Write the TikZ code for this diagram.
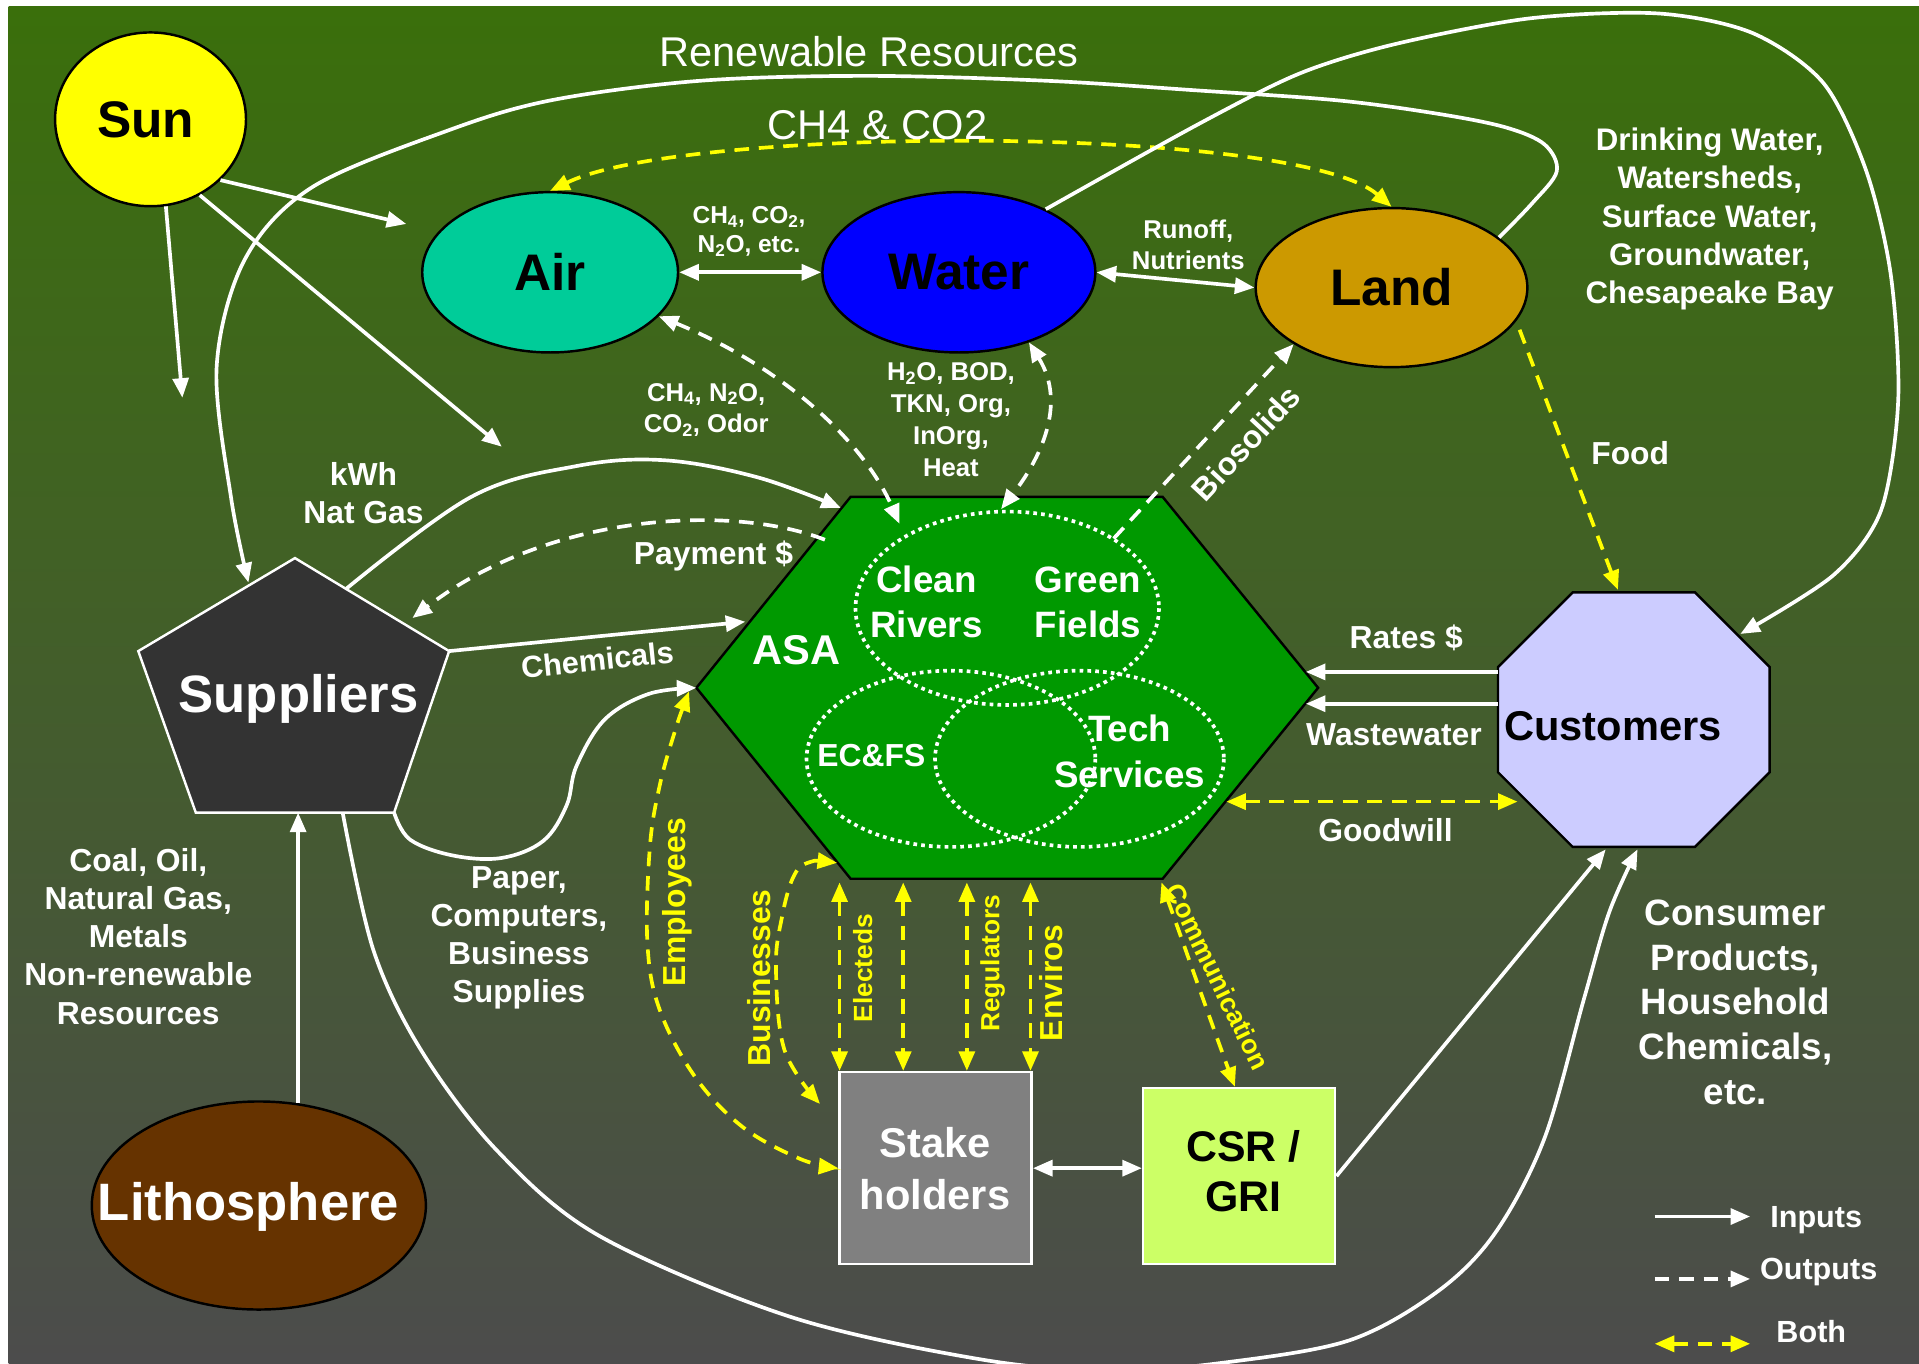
\documentclass[tikz,border=0pt]{standalone}
\usepackage{fontspec}
\setmainfont{Liberation Sans}
\usetikzlibrary{arrows.meta,shapes.geometric}
\definecolor{bgtop}{RGB}{58,111,11}
\definecolor{bgbot}{RGB}{76,76,76}
\definecolor{sunc}{RGB}{255,255,0}
\definecolor{airc}{RGB}{0,204,153}
\definecolor{waterc}{RGB}{0,0,255}
\definecolor{landc}{RGB}{204,153,0}
\definecolor{lithc}{RGB}{102,51,0}
\definecolor{supc}{RGB}{51,51,51}
\definecolor{hexc}{RGB}{0,153,0}
\definecolor{custc}{RGB}{204,204,255}
\definecolor{stakec}{RGB}{128,128,128}
\definecolor{csrc}{RGB}{204,255,102}
\definecolor{ylw}{RGB}{255,255,0}
\newcommand\fz[2]{\fontsize{#1}{#2}\selectfont}
\begin{document}
\begin{tikzpicture}[x=1pt,y=-1pt,
  >={Triangle[length=16pt,width=13pt]},
  wline/.style={draw=white,line width=3pt},
  inarr/.style={wline,->},
  inboth/.style={wline,<->},
  outarr/.style={wline,->,dash pattern=on 12pt off 8pt},
  outboth/.style={wline,<->,dash pattern=on 12pt off 8pt},
  ybo/.style={draw=ylw,line width=3pt,<->,dash pattern=on 12pt off 8pt},
  lbl/.style={text=white,align=center,inner sep=0pt},
  ylbl/.style={text=ylw,inner sep=0pt},
  blob/.style={ellipse,draw=black,line width=2pt,inner sep=0pt},
  dots/.style={draw=white,line width=3pt,dash pattern=on 3pt off 3.4pt}]
\useasboundingbox (0,0) rectangle (1568,1114);
\fill[white] (0,0) rectangle (1568,1114);
\shade[top color=bgtop,bottom color=bgbot] (7,5) rectangle (1568,1114);

% ---------- nodes ----------
\node[blob,fill=sunc,minimum width=156,minimum height=142] (sun) at (123,97.5) {};
\node[inner sep=0pt,font=\bfseries\fz{42}{48}] (sunt) at (119,98) {Sun};
\node[blob,fill=airc,minimum width=209,minimum height=131,font=\bfseries\fz{42}{48}] (air) at (449.5,222.5) {Air};
\node[blob,fill=waterc,minimum width=223,minimum height=131,font=\bfseries\fz{42}{48}] (water) at (783.5,222.5) {Water};
\node[blob,fill=landc,minimum width=222,minimum height=130,font=\bfseries\fz{42}{48}] (land) at (1137,235) {Land};
\node[blob,fill=lithc,minimum width=273,minimum height=170] (litho) at (211.5,985) {};
\node[lbl,font=\bfseries\fz{43}{48}] (lithot) at (203,986) {Lithosphere};

% Suppliers pentagon
\coordinate (sT) at (241,456);
\coordinate (sR) at (367,532);
\coordinate (sBR) at (322,664);
\coordinate (sBL) at (160,664);
\coordinate (sL) at (113,532);
\draw[fill=supc,draw=white,line width=2pt] (sT)--(sR)--(sBR)--(sBL)--(sL)--cycle;
\node[lbl,font=\bfseries\fz{43}{48}] (sup) at (244,571) {Suppliers};

% ASA hexagon
\coordinate (h1) at (695,406);
\coordinate (h2) at (950,406);
\coordinate (h3) at (1077,562);
\coordinate (h4) at (950,718);
\coordinate (h5) at (695,718);
\coordinate (h6) at (569,562);
\draw[fill=hexc,draw=black,line width=2pt] (h1)--(h2)--(h3)--(h4)--(h5)--(h6)--cycle;
\draw[dots] (823,497) ellipse [x radius=124,y radius=79];
\draw[dots] (777,620) ellipse [x radius=118,y radius=72];
\draw[dots] (882,620) ellipse [x radius=118,y radius=72];
\node[lbl,font=\bfseries\fz{34}{40}] (asa) at (651,531) {ASA};
\node[lbl,font=\bfseries\fz{30}{37}] (clean) at (757,492) {Clean\\Rivers};
\node[lbl,font=\bfseries\fz{30}{37}] (green) at (889,492) {Green\\Fields};
\node[lbl,font=\bfseries\fz{26}{31}] (ecfs) at (712,617) {EC\&FS};
\node[lbl,font=\bfseries\fz{30}{37}] (tech) at (923,614) {Tech\\Services};

% Customers octagon
\coordinate (c1) at (1285,484);
\coordinate (c2) at (1385,484);
\coordinate (c3) at (1446,545);
\coordinate (c4) at (1446,631);
\coordinate (c5) at (1385,692);
\coordinate (c6) at (1285,692);
\coordinate (c7) at (1224,631);
\coordinate (c8) at (1224,545);
\draw[fill=custc,draw=black,line width=2pt] (c1)--(c2)--(c3)--(c4)--(c5)--(c6)--(c7)--(c8)--cycle;
\node[inner sep=0pt,font=\bfseries\fz{34}{40}] (cust) at (1318,593) {Customers};

% Stakeholders and CSR
\node[draw=white,line width=2pt,fill=stakec,minimum width=157,minimum height=157,inner sep=0pt] (stake) at (764.5,954.5) {};
\node[lbl,font=\bfseries\fz{34}{43}] (staket) at (764,955) {Stake\\holders};
\node[draw=white,line width=2pt,fill=csrc,minimum width=157,minimum height=144,inner sep=0pt] (csr) at (1012.5,961) {};
\node[inner sep=0pt,align=center,font=\bfseries\fz{35}{41}] (csrt) at (1016,957) {CSR /\\GRI};

% ---------- connectors ----------
% Sun
\coordinate (sunA) at (149,325);
\coordinate (sunB) at (332,183);
\coordinate (sunC) at (410,365);
\draw[inarr] (sun.-80) -- (sunA);
\draw[inarr] (sun.-41) -- (sunB);
\draw[inarr] (sun.-57) -- (sunC);

% Air/Water/Land
\draw[inboth] (air.east) -- (water.west);
\draw[inboth] (water.east) -- (land.west);
\draw[ybo] (air.north) .. controls (560,102) and (1060,102) .. (land.north);

% Renewable resources loop: Land -> Suppliers
\draw[inarr] plot[smooth,tension=0.55] coordinates {(land.25) (1252,166) (1272,140) (1262,118) (1230,104) (1175,93) (1093,82) (980,74) (855,66) (709,62) (572,66) (450,82) (365,107) (255,153) (200,212) (177,300) (189,408) (203,476)};

% Water -> Customers loop
\coordinate (custTR) at (1422,518);
\draw[inarr] plot[smooth,tension=0.5] coordinates {(water.36) (980,101) (1062,60) (1140,36) (1250,15) (1355,11) (1432,27) (1490,68) (1525,140) (1545,225) (1551,327) (1537,417) (1498,470) (custTR)};

% Air <-> ASA, Water <-> ASA, Biosolids
\coordinate (hAir) at (735,428);
\coordinate (hWat) at (818,416);
\coordinate (hBio) at (910,440);
\draw[outboth] (air.-22) .. controls (640,300) and (705,360) .. (hAir);
\draw[outboth] (water.-45) .. controls (872,330) and (850,375) .. (hWat);
\draw[outarr] (hBio) -- (land.-150);

% Suppliers <-> ASA
\coordinate (hKwh) at (687,415);
\coordinate (hPay) at (674,441);
\coordinate (supPay) at (337,505);
\coordinate (supKwh) at (283,481);
\coordinate (hChem) at (609,508);
\coordinate (supBot) at (280,664);
\draw[inarr] plot[smooth,tension=0.6] coordinates {(supKwh) (385,406) (470,381) (542,376) (619,390) (hKwh)};
\draw[outarr] (hPay) .. controls (600,412) and (450,418) .. (supPay);
\draw[inarr] (sR) -- (hChem);
\draw[inarr] plot[smooth,tension=0.6] coordinates {(sBR) (335,686) (370,699) (410,701) (444,687) (463,658) (471,626) (494,588) (530,567) (h6)};

% Lithosphere -> Suppliers
\draw[inarr] (litho.69) -- (litho.69 |- sBR);

% Suppliers -> Customers (bottom loop)
\coordinate (custB2) at (1338,694);
\draw[inarr] plot[smooth,tension=0.55] coordinates {(supBot) (305,776) (344,858) (406,940) (490,1010) (646,1076) (803,1111) (910,1120) (1003,1113) (1103,1095) (1175,1055) (1222,1007) (1262,930) (1294,817) (1315,745) (custB2)};

% CSR -> Customers
\coordinate (custB1) at (1312,694);
\draw[inarr] (csr.east) -- (custB1);
\draw[inboth] (stake.east) -- (stake.east -| csr.west);

% Customers -> ASA
\coordinate (hRate) at (1067,549);
\coordinate (hWw) at (1067,575);
\coordinate (hGood) at (1002,655);
\coordinate (custGood) at (1240,655);
\draw[inarr] (c8 |- hRate) -- (hRate);
\draw[inarr] (c8 |- hWw) -- (hWw);
\draw[ybo] (hGood) -- (custGood);

% Land -> Customers (food)
\coordinate (custTop) at (1322,482);
\draw[ybo,<-] (custTop) -- (land.-15);

% Stakeholder links
\coordinate (hEmp) at (563,565);
\coordinate (hBus) at (684,705);
\coordinate (stBus) at (670,902);
\draw[ybo] plot[smooth,tension=0.6] coordinates {(hEmp) (551,599) (539,642) (531,692) (529,771) (539,825) (568,880) (607,921) (654,947) (stake.west)};
\draw[ybo] plot[smooth,tension=0.6] coordinates {(hBus) (660,705) (648,717) (639,749) (634,790) (641,858) (stBus)};
\foreach \xx/\nm in {686/e1,738/e2,790/e3,842/e4}{
  \coordinate (t\nm) at (\xx,721);
  \draw[ybo] (t\nm) -- (t\nm |- stake.north);
}
\coordinate (hCom) at (949,721);
\coordinate (csrTop) at (1009,888);
\draw[ybo] plot[smooth,tension=0.6] coordinates {(hCom) (963,760) (979,805) (998,858) (csrTop)};

% ---------- labels ----------
\node[lbl,font=\fz{34}{40}] (lren) at (710,42) {Renewable Resources};
\node[lbl,font=\fz{34}{40}] (lch) at (717,102) {CH4 \& CO2};
\node[lbl,font=\bfseries\fz{20}{24}] (lgas) at (612,189) {CH\textsubscript{4}, CO\textsubscript{2},\\N\textsubscript{2}O, etc.};
\node[lbl,font=\bfseries\fz{21}{26}] (lrun) at (971,200) {Runoff,\\Nutrients};
\node[lbl,font=\bfseries\fz{21}{26}] (lodor) at (577,335) {CH\textsubscript{4}, N\textsubscript{2}O,\\CO\textsubscript{2}, Odor};
\node[lbl,font=\bfseries\fz{21}{26.3}] (lh2o) at (777,343) {H\textsubscript{2}O, BOD,\\TKN, Org,\\InOrg,\\Heat};
\node[lbl,font=\bfseries\fz{25.5}{31.2}] (ldrink) at (1397,179) {Drinking Water,\\Watersheds,\\Surface Water,\\Groundwater,\\Chesapeake Bay};
\node[lbl,font=\bfseries\fz{26}{31}] (lfood) at (1332,370) {Food};
\node[lbl,font=\bfseries\fz{26}{31},rotate=47] (lbio) at (1018,362) {Biosolids};
\node[lbl,font=\bfseries\fz{26}{31}] (lkwh) at (297,403) {kWh\\Nat Gas};
\node[lbl,font=\bfseries\fz{26}{31}] (lpay) at (583,454) {Payment \$};
\node[lbl,font=\bfseries\fz{25}{31},rotate=6] (lchem) at (488,539) {Chemicals};
\node[lbl,font=\bfseries\fz{26}{31.2}] (lcoal) at (113,765) {Coal, Oil,\\Natural Gas,\\Metals\\Non-renewable\\Resources};
\node[lbl,font=\bfseries\fz{26}{31}] (lpaper) at (424,766) {Paper,\\Computers,\\Business\\Supplies};
\node[lbl,font=\bfseries\fz{26}{31}] (lrate) at (1149,521) {Rates \$};
\node[lbl,font=\bfseries\fz{26}{31}] (lww) at (1139,600) {Wastewater};
\node[lbl,font=\bfseries\fz{26}{31}] (lgood) at (1132,678) {Goodwill};
\node[lbl,font=\bfseries\fz{30}{36.5}] (lcons) at (1418,819) {Consumer\\Products,\\Household\\Chemicals,\\etc.};
\node[ylbl,font=\bfseries\fz{26}{31},rotate=90] (lemp) at (553,737) {Employees};
\node[ylbl,font=\bfseries\fz{26}{31},rotate=90] (lbus) at (620,799) {Businesses};
\node[ylbl,font=\bfseries\fz{21.5}{26},rotate=90] (lelec) at (705,791) {Electeds};
\node[ylbl,font=\bfseries\fz{21.5}{26},rotate=90] (lreg) at (811,787) {Regulators};
\node[ylbl,font=\bfseries\fz{26}{31},rotate=90] (lenv) at (859,803) {Enviros};
\node[ylbl,font=\bfseries\fz{22}{26},rotate=-64] (lcom) at (995,798) {Communication};

% ---------- legend ----------
\coordinate (g1a) at (1352,994);
\coordinate (g1b) at (1430,994);
\coordinate (g2a) at (1352,1045);
\coordinate (g2b) at (1430,1045);
\coordinate (g3a) at (1352,1098);
\coordinate (g3b) at (1430,1098);
\draw[inarr] (g1a) -- (g1b);
\draw[outarr] (g2a) -- (g2b);
\draw[ybo] (g3a) -- (g3b);
\node[lbl,font=\bfseries\fz{25}{30}] (lin) at (1484,997) {Inputs};
\node[lbl,font=\bfseries\fz{25}{30}] (lout) at (1486,1039) {Outputs};
\node[lbl,font=\bfseries\fz{25}{30}] (lboth) at (1480,1088) {Both};
\end{tikzpicture}
\end{document}
